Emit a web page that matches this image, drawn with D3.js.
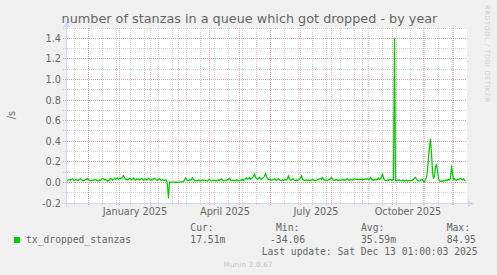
<!DOCTYPE html>
<html>
<head>
<meta charset="utf-8">
<script src="https://cdn.jsdelivr.net/npm/d3@7"></script>
<style>
  body { margin: 0; background: #f0f0f0; }
  svg { display: block; }
</style>
</head>
<body>
<script>
const svgWidth = 497;
const svgHeight = 275;

const chartTitle = 'number of stanzas in a queue which got dropped - by year';
const unitLabel = '/s';
const startTime = new Date(2024, 10, 8, 1, 0, 3);
const endTime = new Date(2025, 11, 13, 1, 0, 3);

const yTicks = [-0.2, 0, 0.2, 0.4, 0.6, 0.8, 1.0, 1.2, 1.4];
const yTickLabels = ['-0.2', '0.0', '0.2', '0.4', '0.6', '0.8', '1.0', '1.2', '1.4'];
const xTickMonths = [new Date(2025, 0, 1), new Date(2025, 3, 1), new Date(2025, 6, 1), new Date(2025, 9, 1)];
const xTickLabels = ['January 2025', 'April 2025', 'July 2025', 'October 2025'];

// one value per day
const txDropped = [
  0.012,0.018,0.025,0.03,0.022,0.028,0.035,0.025,0.02,0.03,0.026,0.018,0.022,0.03,0.036,0.024,0.02,0.015,0.022,0.028,
  0.03,0.038,0.025,0.02,0.018,0.015,0.022,0.02,0.026,0.03,0.02,0.015,0.018,0.025,0.02,0.03,0.04,0.035,0.025,0.03,
  0.022,0.01,0.018,0.03,0.038,0.03,0.02,0.032,0.04,0.03,0.035,0.045,0.03,0.04,0.035,0.045,0.05,0.068,0.045,0.03,
  0.032,0.025,0.03,0.04,0.035,0.025,0.03,0.045,0.03,0.02,0.032,0.028,0.035,0.025,0.03,0.04,0.03,0.022,0.028,0.035,
  0.025,0.03,0.04,0.028,0.02,0.03,0.025,0.035,0.042,0.03,0.02,0.025,0.03,0.035,0.025,0.02,0.028,0.022,0.018,0.025,
  0.022,-0.03,-0.15,0.002,0.003,0.003,0.003,0.003,0.004,0.003,0.003,0.004,0.003,0.003,0.004,0.003,0.005,0.012,0.02,0.046,
  0.03,0.02,0.018,0.025,0.02,0.03,0.046,0.028,0.02,0.015,0.02,0.018,0.022,0.02,0.015,0.02,0.025,0.018,0.02,0.022,
  0.018,0.015,0.025,0.03,0.02,0.015,0.018,0.022,0.02,0.018,0.015,0.02,0.025,0.02,0.028,0.035,0.02,0.015,0.018,0.022,
  0.02,0.025,0.03,0.04,0.025,0.018,0.02,0.022,0.015,0.02,0.025,0.018,0.02,0.015,0.02,0.025,0.03,0.022,0.028,0.035,
  0.046,0.03,0.035,0.05,0.03,0.04,0.045,0.06,0.084,0.05,0.035,0.03,0.04,0.05,0.035,0.03,0.04,0.045,0.06,0.088,
  0.06,0.035,0.03,0.025,0.03,0.022,0.025,0.03,0.035,0.025,0.02,0.028,0.035,0.025,0.02,0.018,0.025,0.02,0.025,0.03,
  0.025,0.035,0.068,0.03,0.022,0.025,0.035,0.03,0.02,0.018,0.025,0.02,0.022,0.03,0.04,0.068,0.03,0.022,0.02,0.018,
  0.025,0.02,0.022,0.018,0.02,0.025,0.03,0.022,0.02,0.018,0.022,0.025,0.03,0.035,0.04,0.03,0.05,0.03,0.025,0.02,
  0.022,0.018,0.025,0.03,0.035,0.05,0.03,0.022,0.02,0.025,0.03,0.022,0.018,0.025,0.02,0.022,0.03,0.025,0.02,0.025,
  0.03,0.035,0.025,0.02,0.03,0.025,0.022,0.03,0.035,0.03,0.03,0.032,0.03,0.028,0.03,0.032,0.03,0.028,0.03,0.035,
  0.03,0.035,0.03,0.032,0.05,0.03,0.025,0.02,0.025,0.03,0.025,0.03,0.045,0.03,0.035,0.05,0.085,0.04,0.025,0.02,
  0.02,0.025,0.02,0.025,0.03,0.02,0.025,0.03,1.4,0.02,0.018,0.022,0.02,0.025,0.015,0.018,0.022,0.02,0.015,0.018,
  0.02,0.015,0.018,0.02,0.015,0.02,0.025,0.03,0.04,0.05,0.03,0.02,0.018,0.015,0.02,0.03,0.025,0.01,0.003,0.03,
  0.05,0.12,0.25,0.34,0.42,0.28,0.1,0.04,0.06,0.15,0.175,0.11,0.04,0.015,0.012,0.015,0.012,0.018,0.015,0.02,
  0.025,0.02,0.028,0.025,0.04,0.16,0.08,0.03,0.035,0.025,0.02,0.03,0.025,0.035,0.04,0.03,0.025,0.035,0.02,0.012
];

const seriesName = 'tx_dropped_stanzas';
const legendHeads = ['Cur:', 'Min:', 'Avg:', 'Max:'];
const legendValues = ['17.51m', '-34.06', '35.59m', '84.95'];
const lastUpdate = 'Last update: Sat Dec 13 01:00:03 2025';

const fontSans = '"DejaVu Sans", sans-serif';
const fontMono = '"DejaVu Sans Mono", monospace';
const textColor = '#666666';
const axisColor = '#cfd6f8';
const lineColor = '#00cc00';
const minorColor = 'rgba(128,128,128,0.35)';
const majorColor = 'rgba(224,80,80,0.4)';

const svg = d3.select('body')
              .append('svg')
              .attr('width', svgWidth)
              .attr('height', svgHeight)
              .style('background', '#f0f0f0');

const plotLeft = 66, plotRight = 467, plotTop = 28, plotBottom = 203;

const x = d3.scaleTime().domain([startTime, endTime]).range([65.5, 465.5]);
const y = d3.scaleLinear().domain([-0.2, 1.5]).range([plotBottom, plotTop]);

const px = v => Math.floor(v) + 0.5;

// canvas
svg.append('rect')
   .attr('x', plotLeft).attr('y', plotTop)
   .attr('width', plotRight - plotLeft).attr('height', plotBottom - plotTop)
   .attr('fill', '#ffffff');

// minor grid
const minorY = d3.range(-2, 16).map(d => d / 10);
svg.append('g').selectAll('line')
   .data(minorY)
   .enter().append('line')
   .attr('x1', 63).attr('x2', plotRight)
   .attr('y1', d => px(y(d))).attr('y2', d => px(y(d)))
   .attr('stroke', minorColor)
   .attr('stroke-dasharray', '1,1');

const minorX = d3.timeSunday.range(startTime, endTime).filter((d, i) => i % 2 === 1);
svg.append('g').selectAll('line')
   .data(minorX)
   .enter().append('line')
   .attr('x1', d => px(x(d))).attr('x2', d => px(x(d)))
   .attr('y1', plotTop).attr('y2', plotBottom + 3)
   .attr('stroke', minorColor)
   .attr('stroke-dasharray', '1,1');

// major grid
svg.append('g').selectAll('line')
   .data(yTicks)
   .enter().append('line')
   .attr('x1', 63).attr('x2', plotRight)
   .attr('y1', d => px(y(d))).attr('y2', d => px(y(d)))
   .attr('stroke', majorColor)
   .attr('stroke-dasharray', '1,1');

const majorX = d3.timeMonth.range(startTime, endTime);
svg.append('g').selectAll('line')
   .data(majorX)
   .enter().append('line')
   .attr('x1', d => px(x(d))).attr('x2', d => px(x(d)))
   .attr('y1', plotTop).attr('y2', plotBottom + 3)
   .attr('stroke', majorColor)
   .attr('stroke-dasharray', '1,1');

// y labels
const yAxis = svg.append('g')
   .attr('transform', 'translate(66,0)')
   .call(d3.axisLeft(y).tickValues(yTicks).tickSize(0).tickPadding(5)
           .tickFormat((d, i) => yTickLabels[i]));
yAxis.select('.domain').remove();
yAxis.selectAll('text')
     .attr('fill', textColor)
     .style('font-family', fontSans)
     .style('font-size', '9.7px');

// x labels, centred half a month after the month start
const xAxis = svg.append('g')
   .attr('transform', 'translate(0,' + plotBottom + ')')
   .call(d3.axisBottom(x).tickValues(xTickMonths.map(d => d3.timeDay.offset(d, 15)))
           .tickSize(0).tickPadding(5)
           .tickFormat((d, i) => xTickLabels[i]));
xAxis.select('.domain').remove();
xAxis.selectAll('text')
     .attr('fill', textColor)
     .style('font-family', fontSans)
     .style('font-size', '9.7px');

// data line
const points = txDropped.map((v, i) => ({ date: d3.timeDay.offset(startTime, i + 1), value: v }));
const line = d3.line()
               .x(d => x(d.date))
               .y(d => y(d.value));
svg.append('path')
   .datum(points)
   .attr('d', line)
   .attr('fill', 'none')
   .attr('stroke', lineColor)
   .attr('stroke-width', 1.25)
   .attr('stroke-linejoin', 'round');

// axes with arrows
svg.append('line')
   .attr('x1', 62).attr('x2', 469)
   .attr('y1', 203.5).attr('y2', 203.5)
   .attr('stroke', axisColor);
svg.append('path')
   .attr('d', 'M468,200 L474,203.5 L468,207 Z')
   .attr('fill', axisColor);
svg.append('line')
   .attr('x1', 66.5).attr('x2', 66.5)
   .attr('y1', 207).attr('y2', 25)
   .attr('stroke', axisColor);
svg.append('path')
   .attr('d', 'M63,27 L66.5,21 L70,27 Z')
   .attr('fill', axisColor);

// title and side texts
svg.append('text')
   .attr('x', 249.5).attr('y', 23)
   .attr('text-anchor', 'middle')
   .attr('fill', textColor)
   .style('font-family', fontSans)
   .style('font-size', '12.8px')
   .text(chartTitle);

svg.append('text')
   .attr('transform', 'translate(15,115) rotate(-90)')
   .attr('text-anchor', 'middle')
   .attr('fill', textColor)
   .style('font-family', fontSans)
   .style('font-size', '9.7px')
   .text(unitLabel);

svg.append('text')
   .attr('transform', 'translate(485,5) rotate(90)')
   .attr('fill', '#cccccc')
   .attr('textLength', 97)
   .attr('lengthAdjust', 'spacing')
   .style('font-family', fontSans)
   .style('font-size', '6.6px')
   .text('RRDTOOL / TOBI OETIKER');

// legend
svg.append('rect')
   .attr('x', 14).attr('y', 237)
   .attr('width', 6).attr('height', 6)
   .attr('fill', lineColor);
svg.append('text')
   .attr('x', 26).attr('y', 242.5)
   .attr('fill', textColor)
   .style('font-family', fontMono)
   .style('font-size', '9.7px')
   .text(seriesName);

const headX = [190.3, 276, 361, 446.7];
const valueX = [190.3, 270, 361, 446.7];
svg.append('g').selectAll('text')
   .data(legendHeads)
   .enter().append('text')
   .attr('x', (d, i) => headX[i]).attr('y', 231)
   .attr('fill', textColor)
   .style('font-family', fontMono)
   .style('font-size', '9.7px')
   .text(d => d);
svg.append('g').selectAll('text')
   .data(legendValues)
   .enter().append('text')
   .attr('x', (d, i) => valueX[i]).attr('y', 242.5)
   .attr('fill', textColor)
   .style('font-family', fontMono)
   .style('font-size', '9.7px')
   .text(d => d);

svg.append('text')
   .attr('x', 261.7).attr('y', 254.5)
   .attr('fill', textColor)
   .style('font-family', fontMono)
   .style('font-size', '9.7px')
   .text(lastUpdate);

svg.append('text')
   .attr('x', 223.5).attr('y', 267)
   .attr('fill', '#c4c4c4')
   .attr('textLength', 49)
   .attr('lengthAdjust', 'spacing')
   .style('font-family', fontSans)
   .style('font-size', '7.2px')
   .text('Munin 2.0.67');
</script>
</body>
</html>
